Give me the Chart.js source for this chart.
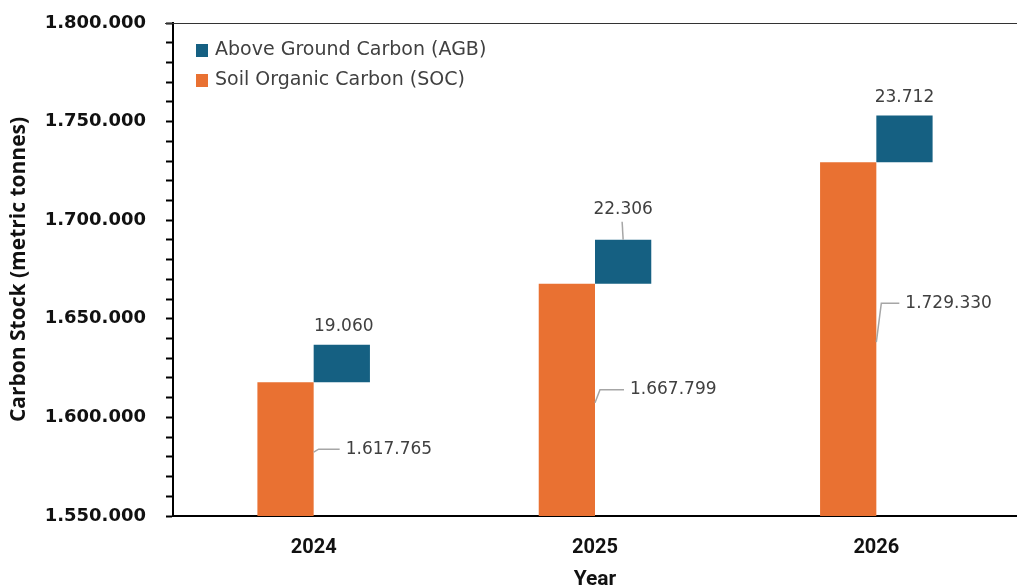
<!DOCTYPE html>
<html>
<head>
<meta charset="utf-8">
<script src="https://cdn.jsdelivr.net/npm/chart.js@4.4.1/dist/chart.umd.min.js"></script>
<style>
  html, body { margin: 0; padding: 0; background: #fff; }
  #wrap { width: 1017px; height: 587px; }
</style>
</head>
<body>
<div id="wrap"><canvas id="chart" width="1017" height="587"></canvas></div>
<script>
// data
const years = ['2024', '2025', '2026'];
const socValues = [1617765, 1667799, 1729330];
const agbValues = [19060, 22306, 23712];
const axisMin = 1550000;
const axisMax = 1800000;

// label nudges (px) – where the labels were dragged to in the original
const socLabelShift = [[32, 0], [35, -10], [29, -36]];
const agbLabelShift = [[2, -18], [0, -30], [0, -18]];

const orange = '#E97132';
const blue = '#156082';
const labelColor = '#404040';
const leaderColor = '#a6a6a6';

function fmt(v) {
  return String(Math.round(v)).replace(/\B(?=(\d{3})+(?!\d))/g, '.');
}

const socBars = socValues.map(v => [axisMin, v]);
const agbBars = socValues.map((v, i) => [v, v + agbValues[i]]);

const labelPlugin = {
  id: 'labelPlugin',
  afterDatasetsDraw(chart) {
    const ctx = chart.ctx;
    const area = chart.chartArea;
    ctx.save();

    // top border of the plot
    ctx.strokeStyle = '#333';
    ctx.lineWidth = 1;
    ctx.beginPath();
    ctx.moveTo(area.left - 8, area.top + 0.5);
    ctx.lineTo(area.right, area.top + 0.5);
    ctx.stroke();

    ctx.font = '17px "DejaVu Sans"';
    ctx.fillStyle = labelColor;
    ctx.textBaseline = 'middle';

    const socMeta = chart.getDatasetMeta(0);
    const agbMeta = chart.getDatasetMeta(1);

    socMeta.data.forEach((bar, i) => {
      const right = bar.x + bar.width / 2;
      const mid = (bar.y + bar.base) / 2;
      const lx = right + socLabelShift[i][0];
      const ly = mid + socLabelShift[i][1];
      ctx.strokeStyle = leaderColor;
      ctx.lineWidth = 1.5;
      ctx.beginPath();
      ctx.moveTo(right, mid + 3);
      ctx.lineTo(right + 5, ly);
      ctx.lineTo(lx - 6, ly);
      ctx.stroke();
      ctx.textAlign = 'left';
      ctx.fillText(fmt(socValues[i]), lx, ly);
    });

    agbMeta.data.forEach((bar, i) => {
      const top = Math.min(bar.y, bar.base);
      const lx = bar.x + agbLabelShift[i][0];
      const ly = top + agbLabelShift[i][1];
      if (agbLabelShift[i][1] < -20) {
        ctx.strokeStyle = leaderColor;
        ctx.lineWidth = 1.5;
        ctx.beginPath();
        ctx.moveTo(bar.x, top);
        ctx.lineTo(bar.x - 1, ly + 12);
        ctx.stroke();
      }
      ctx.textAlign = 'center';
      ctx.fillText(fmt(agbValues[i]), lx, ly);
    });

    // legend inside the plot, AGB first
    const items = [chart.data.datasets[1], chart.data.datasets[0]];
    ctx.textAlign = 'left';
    ctx.font = '19px "DejaVu Sans"';
    items.forEach((ds, k) => {
      const y = area.top + 27 + k * 30;
      ctx.fillStyle = ds.backgroundColor;
      ctx.fillRect(area.left + 23, y - 6, 12, 13);
      ctx.fillStyle = labelColor;
      ctx.fillText(ds.label, area.left + 42, y);
    });

    ctx.restore();
  }
};

new Chart(document.getElementById('chart'), {
  type: 'bar',
  data: {
    labels: years,
    datasets: [
      {
        label: 'Soil Organic Carbon (SOC)',
        data: socBars,
        backgroundColor: orange,
        categoryPercentage: 0.4,
        barPercentage: 1.0
      },
      {
        label: 'Above Ground Carbon (AGB)',
        data: agbBars,
        backgroundColor: blue,
        categoryPercentage: 0.4,
        barPercentage: 1.0
      }
    ]
  },
  options: {
    responsive: false,
    animation: false,
    layout: { padding: { top: 23, right: -5, left: 6, bottom: 0 } },
    plugins: {
      legend: { display: false },
      tooltip: { enabled: false }
    },
    scales: {
      x: {
        grid: { display: false, drawTicks: false },
        border: { color: '#000', width: 2 },
        ticks: {
          color: '#111',
          font: { family: 'Roboto', weight: 'bold', size: 20 },
          padding: 20
        },
        title: {
          display: true,
          text: 'Year',
          color: '#111',
          font: { family: 'Roboto', weight: 'bold', size: 21 },
          padding: { top: 4, bottom: -5 }
        },
        afterFit(scale) { scale.height = 71; }
      },
      y: {
        min: axisMin,
        max: axisMax,
        grid: {
          drawOnChartArea: false,
          drawTicks: true,
          tickLength: 7,
          tickWidth: 2,
          color: '#000'
        },
        border: { color: '#000', width: 2 },
        ticks: {
          stepSize: 10000,
          autoSkip: false,
          color: '#111',
          padding: 20,
          font: { family: 'DejaVu Sans', weight: 'bold', size: 18 },
          callback: v => (v % 50000 === 0 ? fmt(v) : '')
        },
        title: {
          display: true,
          text: 'Carbon Stock (metric tonnes)',
          color: '#111',
          font: { family: 'Open Sans', weight: 'bold', size: 21 },
          padding: { top: 0, bottom: 5 }
        },
        afterFit(scale) {
          scale.width = 167;
          scale.paddingTop = 0;
          scale.paddingBottom = 0;
        }
      }
    }
  },
  plugins: [labelPlugin]
});
</script>
</body>
</html>
